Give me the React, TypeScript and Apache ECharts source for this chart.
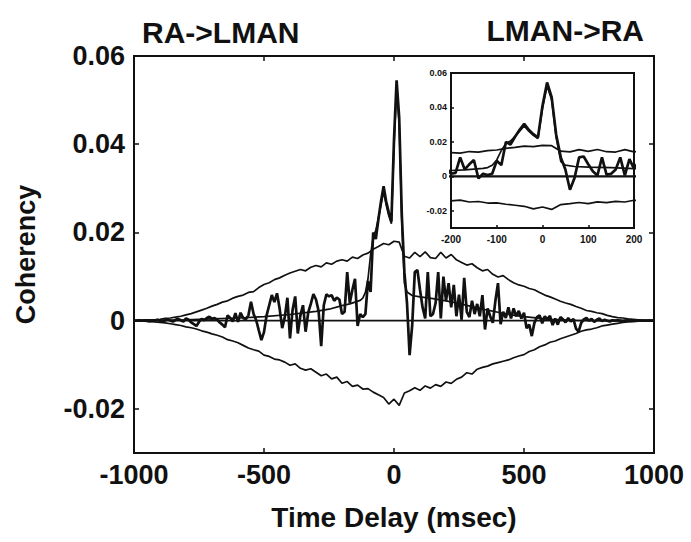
import React, { useEffect, useRef } from "react";
import * as echarts from "echarts";

// Coherency estimate, sampled every 10 ms from -1000 to 1000 ms
const T0 = -1000;
const DT = 10;
const coherency = [
  0, 0, 0.0001, 0, 0.0001, 0, -0.0001, 0.0001, 0, 0.0002,
  0, -0.0002, 0.0001, 0.0003, 0, -0.0002, 0.0002, 0.0004, 0.0001, -0.0002,
  0.0005, 0.0002, -0.0004, -0.0008, -0.0012, -0.0003, 0.0004, 0.0001, 0.0006, 0.0009,
  0.0004, 0.0006, 0.0002, -0.0004, -0.0009, -0.0015, 0.0012, 0.0006, -0.0002, 0.0017,
  -0.0003, 0.0018, 0.0006, 0.0003, 0.0012, 0.0043, 0.0015, 0.0001, -0.0022, -0.0044,
  -0.0026, 0.0012, 0.0035, 0.0058, 0.0042, 0.0062, 0.0028, -0.0017, 0.0008, 0.0052,
  -0.004, 0.0025, 0.0055, -0.0029, 0.0012, 0.0035, -0.0025, 0.0018, 0.0038, 0.006,
  0.0048, 0.0022, -0.0058, 0.0035, 0.006, 0.0055, 0.0058, 0.0045, 0.0052, 0.0048,
  0.0015, 0.002, 0.011, 0.004, 0.007, 0.0095, -0.0012, 0.0015, 0.0008, 0.0015,
  0.009, 0.0065, 0.02, 0.0185, 0.023, 0.027, 0.0305, 0.027, 0.0245, 0.0225,
  0.041, 0.0545, 0.046, 0.024, 0.011, 0.004, -0.0078, -0.001, 0.011, 0.0115,
  0.007, 0.003, 0.0005, 0.011, 0.001, 0.0015, 0.004, 0.011, 0.0005, 0.01,
  0.0045, 0.0085, 0.003, 0.0081, 0.001, 0.0059, 0.0002, 0.0097, 0.002, 0.0008,
  0.0045, 0.0015, 0.0038, 0.001, 0.0058, -0.002, 0.0028, 0.001, -0.0005, 0.0045,
  0.0085, -0.0008, 0.002, 0.0006, 0.003, 0.0005, 0.0028, 0.001, 0.0022, 0.0005,
  0.0018, -0.0017, -0.0009, -0.0035, -0.0005, 0.0008, 0.0012, -0.0006, 0.001, 0.0003,
  0.0011, -0.001, 0.0005, -0.0009, 0.0008, 0.0003, -0.0004, 0.0006, -0.0002, 0.0004,
  -0.0018, -0.0025, -0.0005, 0.0003, 0.0006, 0, 0.0004, -0.0003, 0.0002, 0.0005,
  -0.0001, 0.0002, 0, -0.0002, 0.0001, 0, 0.0001, 0, -0.0001, 0,
  0.0001, 0, 0, 0, 0, 0, 0, 0, 0, 0,
  0,
];

// Confidence bands, sampled every 20 ms from -1000 to 1000 ms
const BT = 20;
const upperBand = [
  0, 0.0001, 0.0001, 0.0002, 0.0002, 0.0003, 0.0005, 0.0006, 0.0008, 0.001,
  0.0013, 0.0016, 0.002, 0.0024, 0.0028, 0.0033, 0.0037, 0.0042, 0.0045, 0.0051,
  0.0055, 0.0058, 0.0064, 0.0066, 0.0075, 0.0082, 0.0086, 0.0093, 0.0097, 0.0103,
  0.0108, 0.0112, 0.0116, 0.0113, 0.0121, 0.0125, 0.0122, 0.0131, 0.0128, 0.0135,
  0.0138, 0.0135, 0.0144, 0.0141, 0.0149, 0.0153, 0.0162, 0.0168, 0.0175, 0.0172,
  0.018, 0.0178, 0.0146, 0.0142, 0.0155, 0.0145, 0.0156, 0.0143, 0.0141, 0.0155,
  0.0142, 0.015, 0.0138, 0.0132, 0.0126, 0.0129, 0.012, 0.0113, 0.0116, 0.0105,
  0.0099, 0.0102, 0.0093, 0.0086, 0.0081, 0.0078, 0.0073, 0.007, 0.0064, 0.0058,
  0.0054, 0.0049, 0.0044, 0.004, 0.0037, 0.0032, 0.0028, 0.0023, 0.0021, 0.0018,
  0.0016, 0.0012, 0.0009, 0.0007, 0.0006, 0.0004, 0.0003, 0.0002, 0.0001, 0.0001,
  0,
];
const lowerBand = [
  0, -0.0001, -0.0001, -0.0002, -0.0003, -0.0004, -0.0005, -0.0007, -0.0009, -0.0011,
  -0.0014, -0.0016, -0.0019, -0.0023, -0.0026, -0.003, -0.0033, -0.0037, -0.0043, -0.0046,
  -0.005, -0.0056, -0.0062, -0.0066, -0.0069, -0.0078, -0.0081, -0.0087, -0.0089, -0.0094,
  -0.0101, -0.0098, -0.0108, -0.0112, -0.0109, -0.0117, -0.0125, -0.0121, -0.0132, -0.0128,
  -0.0142, -0.0138, -0.0149, -0.0146, -0.0155, -0.0154, -0.0162, -0.0168, -0.0174, -0.0189,
  -0.0178, -0.0192, -0.0164, -0.0159, -0.0152, -0.0158, -0.0148, -0.0153, -0.0145, -0.0149,
  -0.0139, -0.0142, -0.0133, -0.0128, -0.0118, -0.0121, -0.011, -0.0106, -0.0103, -0.0098,
  -0.0095, -0.0092, -0.0089, -0.0084, -0.008, -0.0077, -0.007, -0.0066, -0.0059, -0.0055,
  -0.0049, -0.0046, -0.0041, -0.0037, -0.0033, -0.0029, -0.0024, -0.0021, -0.0019, -0.0016,
  -0.0012, -0.001, -0.0008, -0.0006, -0.0004, -0.0003, -0.0002, -0.0001, -0.0001, 0,
  0,
];

// Smooth mean curve (time in ms, value)
const meanTimes = [
  -1000, -900, -800, -700, -600, -500, -400, -300, -250, -200, -170, -150, -130, -120, -110,
  -100, -90, -80, -70, -60, -50, -40, -30, -20, -10, 0, 10, 20, 30, 40, 50, 70, 100, 150,
  200, 250, 300, 350, 400, 450, 500, 600, 700, 800, 900, 1000,
];
const meanValues = [
  0, 0.0001, 0.0002, 0.0004, 0.0006, 0.0009, 0.0014, 0.0021, 0.0026, 0.0034, 0.0038, 0.0042, 0.0046, 0.0051, 0.0064,
  0.0095, 0.015, 0.019, 0.0205, 0.0232, 0.0262, 0.0292, 0.0262, 0.0238, 0.022, 0.0395, 0.0525, 0.0445, 0.0225, 0.0085, 0.0065, 0.0057, 0.0054, 0.005,
  0.0045, 0.0039, 0.0032, 0.0025, 0.0019, 0.0013, 0.0009, 0.0003, 0.0001, 0, 0, 0,
];

const mainXTicks = [-1000, 1000, 500];
const mainYTicks = [-0.02, 0, 0.02, 0.04, 0.06];
const insetXRange = [-200, 200, 100];

const FONT = "'Liberation Sans', Arial, Helvetica, sans-serif";

export default function App() {
  const ref = useRef<HTMLDivElement>(null);

  useEffect(() => {
    if (!ref.current) return;
    const chart = echarts.init(ref.current, null, { renderer: "svg" });

    const cohData = coherency.map((v, i) => [T0 + i * DT, v]);
    const upData = upperBand.map((v, i) => [T0 + i * BT, v]);
    const loData = lowerBand.map((v, i) => [T0 + i * BT, v]);
    const meanData = meanTimes.map((t, i) => [t, meanValues[i]]);
    const zeroData = [
      [mainXTicks[0], 0],
      [mainXTicks[1], 0],
    ];

    const yFmt = (v: number) => (Math.abs(v) < 1e-9 ? "0" : v.toFixed(2));
    const xFmt = (v: number) => String(Math.round(v));
    const black = "#111";

    const lineS = (data: any, xi: number, yi: number, w: number, z = 2) => ({
      type: "line",
      data,
      xAxisIndex: xi,
      yAxisIndex: yi,
      symbol: "none",
      showSymbol: false,
      clip: true,
      lineStyle: { color: black, width: w },
      z,
      silent: true,
    });

    const mainAxisCommon = {
      axisLine: { show: true, onZero: false, lineStyle: { color: black, width: 2 } },
      axisTick: { show: true, inside: true, length: 5, lineStyle: { color: black, width: 1.5 } },
      splitLine: { show: false },
    };

    chart.setOption({
      animation: false,
      backgroundColor: "#fff",
      title: [
        {
          text: "RA->LMAN",
          left: 137,
          top: 12,
          textStyle: { fontFamily: FONT, fontWeight: "bold", fontSize: 30, color: black },
        },
        {
          text: "LMAN->RA",
          right: 42,
          top: 10,
          textStyle: { fontFamily: FONT, fontWeight: "bold", fontSize: 30, color: black },
        },
      ],
      grid: [
        {
          left: 134,
          top: 56,
          width: 520,
          height: 397,
          show: true,
          borderColor: black,
          borderWidth: 2,
          backgroundColor: "#fff",
        },
        {
          left: 451,
          top: 73,
          width: 183,
          height: 155,
          show: true,
          borderColor: black,
          borderWidth: 2,
          backgroundColor: "#fff",
          z: 3,
        },
      ],
      xAxis: [
        {
          type: "value",
          gridIndex: 0,
          position: "bottom",
          min: mainXTicks[0],
          max: mainXTicks[1],
          interval: mainXTicks[2],
          ...mainAxisCommon,
          axisLabel: {
            formatter: xFmt,
            fontFamily: FONT,
            fontWeight: "bold",
            fontSize: 27,
            color: black,
            margin: 8,
          },
          name: "Time Delay (msec)",
          nameLocation: "middle",
          nameGap: 50,
          nameTextStyle: { fontFamily: FONT, fontWeight: "bold", fontSize: 28, color: black },
        },
        {
          type: "value",
          gridIndex: 0,
          position: "top",
          min: mainXTicks[0],
          max: mainXTicks[1],
          interval: mainXTicks[2],
          ...mainAxisCommon,
          axisLabel: { show: false },
        },
        {
          type: "value",
          gridIndex: 1,
          position: "bottom",
          min: insetXRange[0],
          max: insetXRange[1],
          interval: insetXRange[2],
          axisLine: { show: true, onZero: false, lineStyle: { color: black, width: 2 } },
          axisTick: { show: true, inside: true, length: 3, lineStyle: { color: black, width: 1.5 } },
          splitLine: { show: false },
          axisLabel: { formatter: xFmt, fontFamily: FONT, fontWeight: "bold", fontSize: 10, color: black, margin: 6 },
          z: 4,
        },
      ],
      yAxis: [
        {
          type: "value",
          gridIndex: 0,
          position: "left",
          min: -0.03,
          max: 0.06,
          ...mainAxisCommon,
          axisTick: { ...mainAxisCommon.axisTick, customValues: mainYTicks },
          axisLabel: {
            customValues: mainYTicks,
            formatter: yFmt,
            fontFamily: FONT,
            fontWeight: "bold",
            fontSize: 27,
            color: black,
            margin: 9,
          },
          name: "Coherency",
          nameLocation: "middle",
          nameRotate: 90,
          nameGap: 95,
          nameTextStyle: { fontFamily: FONT, fontWeight: "bold", fontSize: 27, color: black },
        },
        {
          type: "value",
          gridIndex: 0,
          position: "right",
          min: -0.03,
          max: 0.06,
          ...mainAxisCommon,
          axisTick: { ...mainAxisCommon.axisTick, customValues: mainYTicks },
          axisLabel: { show: false },
        },
        {
          type: "value",
          gridIndex: 1,
          position: "left",
          min: -0.03,
          max: 0.06,
          axisLine: { show: true, onZero: false, lineStyle: { color: black, width: 2 } },
          axisTick: { show: true, inside: true, length: 3, customValues: mainYTicks, lineStyle: { color: black, width: 1.5 } },
          splitLine: { show: false },
          axisLabel: {
            customValues: mainYTicks,
            formatter: yFmt,
            fontFamily: FONT,
            fontWeight: "bold",
            fontSize: 9,
            color: black,
            margin: 4,
          },
          z: 4,
        },
      ],
      series: [
        lineS(zeroData, 0, 0, 1.8),
        lineS(upData, 0, 0, 1.7),
        lineS(loData, 0, 0, 1.7),
        lineS(meanData, 0, 0, 1.7),
        lineS(cohData, 0, 0, 2.7),
        lineS(zeroData, 2, 2, 2.2, 5),
        lineS(upData, 2, 2, 1.7, 5),
        lineS(loData, 2, 2, 1.7, 5),
        lineS(meanData, 2, 2, 1.7, 5),
        lineS(cohData, 2, 2, 2.7, 5),
      ],
    });

    return () => chart.dispose();
  }, []);

  return (
    <div
      ref={ref}
      style={{ position: "absolute", left: 0, top: 0, width: 691, height: 542 }}
    />
  );
}
